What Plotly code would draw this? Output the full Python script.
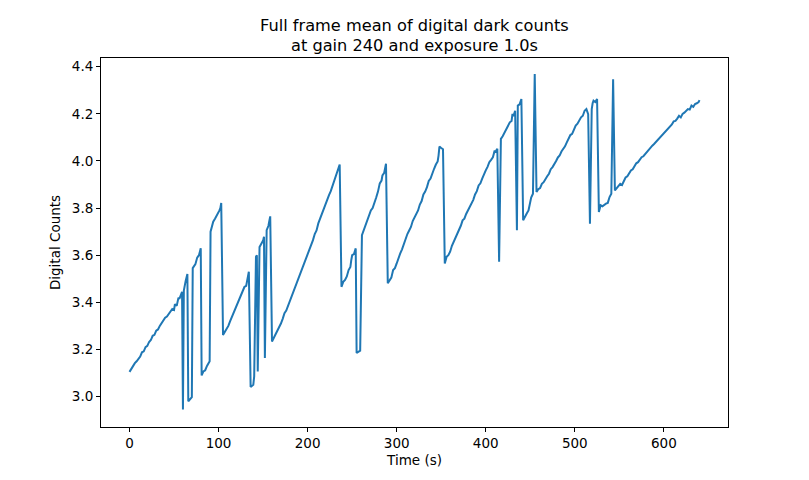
import plotly.graph_objects as go

# Time in seconds and mean dark counts
time_s = [
    0, 2, 4, 6, 8, 10, 12, 14, 16, 18, 20, 22, 24, 26, 28, 30, 32, 34, 36, 38, 40, 42, 44, 46,
    48, 50, 51, 53, 55, 56, 58, 59,
    60, 61, 63, 65, 66, 68, 70, 71, 73, 74, 76, 78, 80,
    81, 83, 85, 87, 89, 90, 91, 93, 94, 96, 98, 100, 101, 102,
    103, 105, 107, 109, 111, 113, 115, 117, 119, 121, 123, 125, 127, 129, 131, 132, 133,
    134, 136, 139, 140, 142, 143, 144, 146, 148, 150, 151, 152, 154, 156, 157,
    158, 160, 162, 164, 166, 168, 170, 172, 174, 176, 178, 180, 182, 184, 186, 188, 190, 192,
    194, 196, 198, 200, 202, 204, 206, 208, 210, 212, 214, 216, 218, 220, 222, 224, 226, 228,
    230, 231,
    232, 234, 236, 238, 240, 242, 244, 246, 248, 249,
    250, 252, 254, 255, 257, 259, 261, 263, 265, 267, 269, 271, 273, 275, 277, 279, 281, 283,
    284, 286, 288, 290, 292, 294, 296, 298, 300, 302, 304, 306, 308, 310, 312, 314, 316, 318,
    320, 322, 324, 326, 328, 330, 332, 334, 336, 338, 340, 342, 344, 346, 347,
    348, 350, 352, 354, 356, 358, 360, 362, 364, 366, 368, 370, 372, 374, 376, 378, 380, 382,
    384, 386, 388, 390, 392, 394, 396, 398, 400, 402, 404, 406, 408, 409,
    410, 411, 413, 415, 417, 419, 421, 423, 425, 427, 429,
    430, 431, 433, 435,
    436, 438, 440, 442, 444, 446, 448, 449,
    450, 451, 453, 455, 457, 459, 461, 463, 465, 467, 469, 471, 473, 475, 477, 479, 481, 483,
    485, 487, 489, 491, 493, 495, 497, 499, 501, 503, 505, 507, 509, 510,
    511, 513, 515, 517, 519, 520,
    521, 523, 525, 527, 529, 531, 533, 535, 537,
    538, 539, 541, 543, 545, 547, 549, 551, 553, 555, 557, 559, 561, 563, 565, 567, 569, 571,
    573, 575, 577, 579, 581, 583, 585, 587, 589, 591, 593, 595, 597, 599, 601, 603, 605, 607,
    609, 611, 613, 615, 617, 619, 621, 623, 625, 627, 629, 631, 633, 635, 637, 639, 640,
]
counts = [
    3.105, 3.118, 3.125, 3.142, 3.150, 3.162, 3.170, 3.188, 3.192, 3.210, 3.215, 3.232, 3.240,
    3.258, 3.262, 3.280, 3.285, 3.300, 3.312, 3.318, 3.335, 3.340, 3.352, 3.365,
    3.372, 3.368, 3.392, 3.385, 3.420, 3.415, 3.432, 3.445,
    2.945, 3.450, 3.490, 3.520, 2.980, 2.990, 2.998, 3.545, 3.555, 3.562, 3.590, 3.600, 3.630,
    3.090, 3.107, 3.112, 3.130, 3.144, 3.150, 3.700, 3.735, 3.742, 3.755, 3.768, 3.778, 3.790,
    3.800,
    3.822, 3.262, 3.275, 3.285, 3.300, 3.320, 3.338, 3.355, 3.375, 3.388, 3.405, 3.425, 3.440,
    3.465, 3.470, 3.490, 3.495, 3.530,
    3.041, 3.050, 3.086, 3.593, 3.600, 3.107, 3.635, 3.650, 3.662, 3.678, 3.164, 3.706, 3.725,
    3.745, 3.765,
    3.234, 3.248, 3.262, 3.276, 3.290, 3.310, 3.330, 3.354, 3.365, 3.385, 3.405, 3.420, 3.445,
    3.460, 3.480, 3.505, 3.520, 3.540,
    3.565, 3.580, 3.600, 3.628, 3.640, 3.664, 3.690, 3.705, 3.735, 3.756, 3.775, 3.790, 3.815,
    3.840, 3.855, 3.872, 3.895, 3.915, 3.930, 3.940,
    3.965, 3.985,
    3.466, 3.487, 3.495, 3.510, 3.537, 3.550, 3.579, 3.600, 3.605, 3.629,
    3.185, 3.190, 3.195, 3.685, 3.705, 3.722, 3.745, 3.762, 3.790, 3.800, 3.819, 3.845, 3.870,
    3.905, 3.917, 3.939, 3.950, 3.988,
    3.481, 3.495, 3.505, 3.537, 3.545, 3.565, 3.590, 3.608, 3.625, 3.648, 3.665, 3.690, 3.705,
    3.720, 3.745, 3.760, 3.778, 3.790,
    3.815, 3.830, 3.858, 3.870, 3.889, 3.915, 3.925, 3.950, 3.967, 3.985, 3.998, 4.023, 4.061,
    4.055, 4.050,
    3.565, 3.593, 3.600, 3.615, 3.640, 3.657, 3.670, 3.690, 3.705, 3.725, 3.748, 3.755, 3.775,
    3.790, 3.800, 3.819, 3.835, 3.858,
    3.872, 3.896, 3.905, 3.925, 3.946, 3.960, 3.975, 3.995, 4.005, 4.016, 4.030, 4.044, 4.040,
    4.052,
    3.572, 4.094, 4.105, 4.120, 4.136, 4.145, 4.164, 4.170, 4.200, 4.190, 4.213,
    3.706, 4.235, 4.240, 4.263,
    3.748, 3.765, 3.777, 3.790, 3.815, 3.828, 3.845, 3.861,
    4.369, 3.868, 3.880, 3.885, 3.903, 3.910, 3.925, 3.935, 3.946, 3.965, 3.974, 3.985, 4.000,
    4.015, 4.023, 4.040, 4.050, 4.062, 4.079, 4.095, 4.110, 4.115, 4.135, 4.150, 4.158, 4.175,
    4.185, 4.192, 4.205, 4.213, 4.220, 4.199,
    3.734, 4.220, 4.245, 4.256, 4.250, 4.263,
    3.783, 3.812, 3.808, 3.815, 3.819, 3.822, 3.835, 3.847, 3.861,
    4.347, 3.875, 3.885, 3.890, 3.903, 3.898, 3.915, 3.930, 3.935, 3.948, 3.960, 3.965, 3.978,
    3.990, 3.995, 4.005, 4.016, 4.020,
    4.030, 4.040, 4.045, 4.060, 4.065, 4.072, 4.080, 4.090, 4.098, 4.108, 4.115, 4.120, 4.132,
    4.140, 4.145, 4.155, 4.168, 4.170,
    4.180, 4.192, 4.185, 4.200, 4.205, 4.212, 4.220, 4.218, 4.235, 4.230, 4.242, 4.245, 4.250,
    4.258, 4.255, 4.270, 4.277,
]

x_ticks = [0, 100, 200, 300, 400, 500, 600]
y_ticks = [3.0, 3.2, 3.4, 3.6, 3.8, 4.0, 4.2, 4.4]
title_lines = ["Full frame mean of digital dark counts", "at gain 240 and exposure 1.0s"]

FONT = "DejaVu Sans"

fig = go.Figure()
fig.add_trace(go.Scatter(
    x=time_s, y=counts, mode="lines",
    line=dict(color="#1f77b4", width=2),
    showlegend=False,
))

axis_common = dict(
    showline=True, linecolor="black", linewidth=1, mirror=True,
    ticks="outside", ticklen=4, tickwidth=1, tickcolor="black",
    showgrid=False, zeroline=False,
    tickfont=dict(family=FONT, size=13.5, color="black"),
)

fig.update_layout(
    width=801, height=472,
    margin=dict(l=93, r=81, t=50, b=53),
    paper_bgcolor="white", plot_bgcolor="white",
    font=dict(family=FONT, color="black"),
    xaxis=dict(
        range=[-32, 672], tickvals=x_ticks,
        title=dict(text="Time (s)", font=dict(family=FONT, size=13.5), standoff=5),
        **axis_common,
    ),
    yaxis=dict(
        range=[2.871, 4.437], tickvals=y_ticks, tickformat=".1f",
        title=dict(text="Digital Counts", font=dict(family=FONT, size=13.5), standoff=8),
        **axis_common,
    ),
    annotations=[
        dict(
            text=title_lines[0],
            x=0.5, xref="paper", xanchor="center",
            y=1, yref="paper", yanchor="middle", yshift=33,
            showarrow=False,
            font=dict(family=FONT, size=16.2, color="black"),
        ),
        dict(
            text=title_lines[1],
            x=0.5, xref="paper", xanchor="center",
            y=1, yref="paper", yanchor="middle", yshift=13,
            showarrow=False,
            font=dict(family=FONT, size=16.2, color="black"),
        ),
    ],
)

fig.write_html("out.html")
